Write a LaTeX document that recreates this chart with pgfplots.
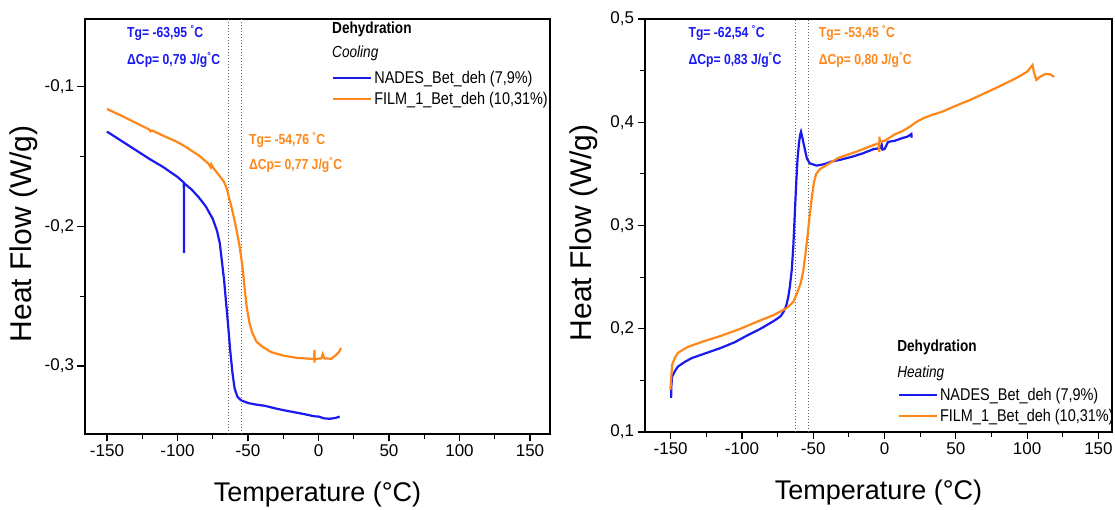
\documentclass[border=0pt]{standalone}
\usepackage{pgfplots}
\pgfplotsset{compat=1.18}
\usepackage{fontspec}
\setmainfont{Liberation Sans}
\newfontfamily\narrowfont[FakeStretch=0.85]{Liberation Sans}
\newfontfamily\anfont[FakeStretch=0.84]{Liberation Sans}
\definecolor{bl}{RGB}{25,25,240}
\definecolor{orc}{RGB}{255,135,25}
\tikzset{ann/.style={anchor=west, inner sep=0pt, font=\anfont\bfseries\fontsize{14.5}{14.5}\selectfont},
 vline/.style={dotted, gray!80!black, line width=1pt}}
\pgfplotsset{
 myax/.style={
  scale only axis,
  xtick={-150,-100,...,150},
  xticklabels={-150,-100,-50,0,50,100,150},
  minor x tick num=1, minor y tick num=1,
  tick align=outside, tick pos=left,
  major tick length=7.5pt, minor tick length=5pt,
  axis line style={line width=1.3pt},
  tick style={line width=1.1pt, black},
  tick label style={font=\fontsize{17}{17}\selectfont},
  xlabel={Temperature (°C)}, ylabel={Heat Flow (W/g)},
  xlabel style={font=\fontsize{27}{27}\selectfont, at={(axis description cs:0.5,-0.147)}, anchor=center},
  ylabel style={font=\fontsize{30}{30}\selectfont, at={(axis description cs:-0.131,0.482)}, anchor=center},
  legend style={draw=none, fill=none, font=\narrowfont\fontsize{17}{17}\selectfont, inner sep=0pt, row sep=3pt, cells={anchor=west}},
  legend image code/.code={\draw[##1] (0pt,0pt) -- (38pt,0pt);},
 },
}
\begin{document}
\begin{tikzpicture}
\useasboundingbox (0pt,0pt) rectangle (1115pt,510pt);
% ---------------- left: cooling ----------------
\begin{axis}[myax, at={(85pt,76pt)}, anchor=south west,
  width=465pt, height=415pt,
  xmin=-165.6, xmax=164.2, ymin=-0.3487, ymax=-0.0513,
  ytick={-0.3,-0.2,-0.1}, yticklabels={{-0,3},{-0,2},{-0,1}},
  legend style={at={(axis description cs:0.531,0.88)}, anchor=north west}]
\addplot[vline, forget plot] coordinates {(-63.95,-0.3487) (-63.95,-0.0513)};
\addplot[vline, forget plot] coordinates {(-54.76,-0.3487) (-54.76,-0.0513)};
\addplot[bl, line width=2.2pt] coordinates {
(-150,-0.132) (-140,-0.1385) (-130,-0.145) (-120,-0.1515) (-110,-0.1575) (-100,-0.1645) (-95.5,-0.1685)
(-95.4,-0.219) (-95.3,-0.169) (-90,-0.1735) (-85,-0.179) (-80,-0.1855) (-75,-0.1945) (-72,-0.203)
(-70,-0.212) (-68.5,-0.225) (-67,-0.238) (-65.5,-0.255) (-64,-0.272) (-62.6,-0.289) (-61,-0.305)
(-59.5,-0.316) (-57.5,-0.322) (-55,-0.3245) (-50,-0.3265) (-45,-0.3275) (-38,-0.3285) (-30,-0.3305)
(-23,-0.332) (-15,-0.3335) (-10,-0.3345) (-3,-0.336) (0,-0.3362) (4,-0.3375) (8,-0.3378) (12,-0.3372) (15,-0.3362)};
\addlegendentry{NADES\_Bet\_deh (7,9\%)}
\addplot[orc, line width=2.2pt] coordinates {
(-150,-0.1158) (-140,-0.1205) (-130,-0.1255) (-120,-0.1305) (-119,-0.1318) (-118,-0.1312) (-110,-0.135)
(-100,-0.1395) (-94,-0.143) (-85,-0.149) (-78,-0.155) (-76.5,-0.1575) (-76,-0.1555) (-75,-0.1575)
(-70,-0.164) (-67,-0.168) (-65,-0.173) (-63.5,-0.179) (-61,-0.189) (-58.6,-0.200) (-56,-0.214)
(-54,-0.228) (-52.5,-0.243) (-51,-0.257) (-49,-0.269) (-47,-0.276) (-44,-0.2825) (-40,-0.286)
(-33.6,-0.290) (-25,-0.2925) (-15,-0.2942) (-5,-0.2948) (-3,-0.2948) (-2.9,-0.2885) (-2.8,-0.2975)
(-2.7,-0.295) (2,-0.2945) (3,-0.2915) (4,-0.2945) (9,-0.2948) (12,-0.2925) (14.5,-0.290) (16,-0.287)};
\addlegendentry{FILM\_1\_Bet\_deh (10,31\%)}
\node[anchor=west, inner sep=0pt, font=\narrowfont\bfseries\fontsize{16}{16}\selectfont] at (axis cs:9.6,-0.059) {Dehydration};
\node[anchor=west, inner sep=0pt, font=\narrowfont\itshape\fontsize{16}{16}\selectfont] at (axis cs:9.6,-0.0756) {Cooling};
\node[ann, text=bl] at (axis cs:-135.8,-0.0613) {Tg= -63,95 \textsuperscript{°}C};
\node[ann, text=bl] at (axis cs:-135.8,-0.0806) {ΔCp= 0,79 J/g\textsuperscript{°}C};
\node[ann, text=orc] at (axis cs:-49.3,-0.138) {Tg= -54,76 \textsuperscript{°}C};
\node[ann, text=orc] at (axis cs:-49.3,-0.156) {ΔCp= 0,77 J/g\textsuperscript{°}C};
\end{axis}
% ---------------- right: heating ----------------
\begin{axis}[myax, at={(645pt,78pt)}, anchor=south west,
  width=467pt, height=413pt,
  xmin=-168, xmax=159.5, ymin=0.1, ymax=0.5,
  ytick={0.1,0.2,0.3,0.4,0.5}, yticklabels={{0,1},{0,2},{0,3},{0,4},{0,5}},
  legend style={at={(axis description cs:0.541,0.112)}, anchor=north west}]
\addplot[vline, forget plot] coordinates {(-62.54,0.1) (-62.54,0.5)};
\addplot[vline, forget plot] coordinates {(-53.45,0.1) (-53.45,0.5)};
\addplot[bl, line width=2.2pt] coordinates {
(-149.7,0.133) (-149.5,0.145) (-149,0.1536) (-147,0.159) (-145,0.1633) (-140,0.168) (-135,0.1717)
(-125,0.1765) (-115,0.1813) (-105,0.187) (-97,0.193) (-87,0.2) (-77.7,0.2075) (-73,0.212) (-71,0.216)
(-69,0.222) (-67.5,0.231) (-66.5,0.24) (-65,0.258) (-64,0.28) (-63,0.31) (-62,0.34) (-61,0.365)
(-60,0.38) (-59.2,0.388) (-58.6,0.3908) (-57.8,0.386) (-56.3,0.3763) (-54.5,0.365) (-52.5,0.3602) (-47.6,0.358)
(-42,0.3595) (-37.6,0.3618) (-30,0.364) (-22.5,0.3667) (-15,0.37) (-7.7,0.374) (-3,0.375) (-2,0.378)
(-1.5,0.3735) (0,0.374) (2.5,0.381) (7,0.382) (12.5,0.3847) (16,0.386) (18.8,0.3886) (19,0.385)};
\addlegendentry{NADES\_Bet\_deh (7,9\%)}
\addplot[orc, line width=2.2pt] coordinates {
(-150.2,0.1407) (-149.5,0.155) (-149,0.165) (-147,0.172) (-145,0.1765) (-141,0.18) (-137.6,0.1826)
(-127.6,0.1875) (-115,0.193) (-102,0.1995) (-90,0.2065) (-77.7,0.2133) (-68.6,0.22) (-64,0.226)
(-61.3,0.2346) (-58.8,0.2443) (-57,0.256) (-55.5,0.272) (-54,0.29) (-52.5,0.31) (-51,0.327) (-49.5,0.342)
(-48,0.35) (-45,0.355) (-42.8,0.3567) (-32.5,0.3654) (-20.3,0.3712) (-7.7,0.378) (-4,0.3795)
(-3.8,0.371) (-3.6,0.386) (-3.3,0.381) (0,0.382) (7.5,0.3885) (12,0.391) (17.5,0.3955) (22,0.4) (27.3,0.404) (33,0.407) (40,0.41)
(50,0.416) (60,0.4216) (70,0.428) (80,0.4344) (92.5,0.4429) (100,0.449) (103.8,0.4554) (104.5,0.45)
(106.4,0.441) (109,0.444) (112.7,0.4467) (116,0.4465) (118.9,0.444)};
\addlegendentry{FILM\_1\_Bet\_deh (10,31\%)}
\node[anchor=west, inner sep=0pt, font=\narrowfont\bfseries\fontsize{16}{16}\selectfont] at (axis cs:8.8,0.1823) {Dehydration};
\node[anchor=west, inner sep=0pt, font=\narrowfont\itshape\fontsize{16}{16}\selectfont] at (axis cs:8.8,0.1571) {Heating};
\node[ann, text=bl] at (axis cs:-137.6,0.4864) {Tg= -62,54 \textsuperscript{°}C};
\node[ann, text=bl] at (axis cs:-137.6,0.4603) {ΔCp= 0,83 J/g\textsuperscript{°}C};
\node[ann, text=orc] at (axis cs:-46.2,0.4864) {Tg= -53,45 \textsuperscript{°}C};
\node[ann, text=orc] at (axis cs:-46.2,0.4603) {ΔCp= 0,80 J/g\textsuperscript{°}C};
\end{axis}
\end{tikzpicture}
\end{document}
